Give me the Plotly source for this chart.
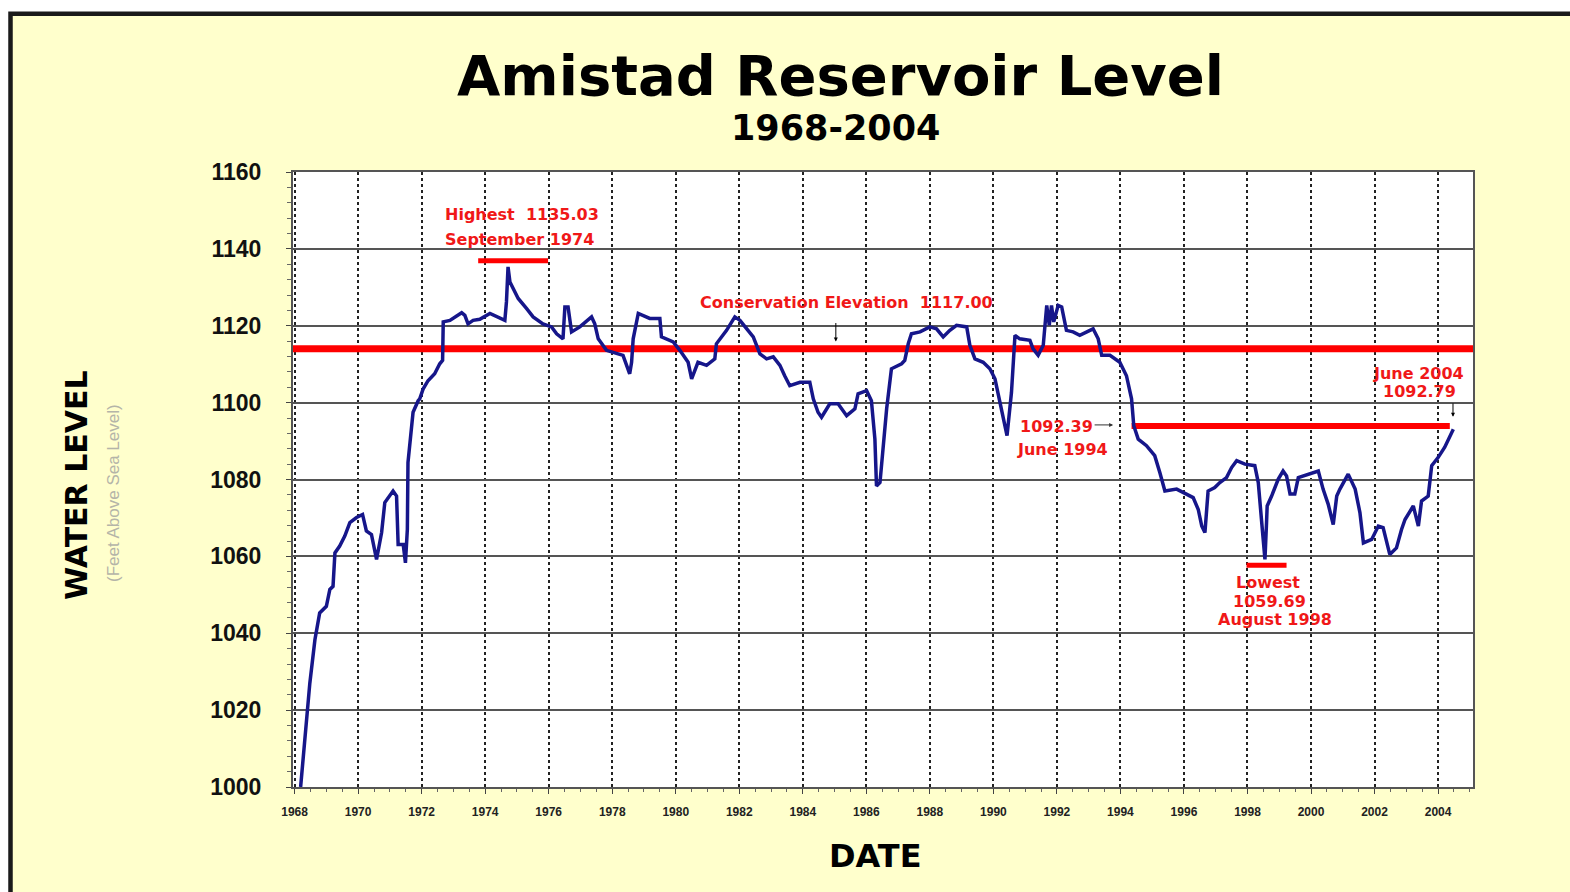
import plotly.graph_objects as go

# ---------------- data ----------------
years = [1968.19, 1968.32, 1968.48, 1968.64, 1968.79, 1969.00, 1969.11, 1969.21, 1969.27, 1969.42,
         1969.58, 1969.74, 1969.95, 1970.14, 1970.26, 1970.42, 1970.58, 1970.74, 1970.84, 1971.10,
         1971.21, 1971.26, 1971.42, 1971.49, 1971.55, 1971.57, 1971.65, 1971.73, 1971.89, 1971.94,
         1972.05, 1972.20, 1972.41, 1972.57, 1972.66, 1972.68, 1972.89, 1973.26, 1973.36, 1973.46,
         1973.62, 1973.83, 1974.15, 1974.36, 1974.62, 1974.67, 1974.72, 1974.78, 1975.04, 1975.30,
         1975.51, 1975.82, 1976.09, 1976.25, 1976.45, 1976.51, 1976.61, 1976.72, 1976.98, 1977.35,
         1977.45, 1977.56, 1977.71, 1977.82, 1978.34, 1978.50, 1978.55, 1978.61, 1978.66, 1978.82,
         1979.18, 1979.50, 1979.55, 1979.92, 1980.13, 1980.39, 1980.50, 1980.70, 1980.97, 1981.23,
         1981.28, 1981.60, 1981.86, 1982.02, 1982.28, 1982.44, 1982.65, 1982.86, 1983.07, 1983.28,
         1983.43, 1983.59, 1983.91, 1984.22, 1984.33, 1984.48, 1984.59, 1984.85, 1985.11, 1985.38,
         1985.64, 1985.74, 1986.01, 1986.16, 1986.27, 1986.32, 1986.43, 1986.53, 1986.64, 1986.79,
         1987.11, 1987.21, 1987.32, 1987.42, 1987.69, 1988.00, 1988.21, 1988.42, 1988.63, 1988.84,
         1989.16, 1989.26, 1989.42, 1989.68, 1989.89, 1990.05, 1990.21, 1990.31, 1990.43, 1990.57,
         1990.68, 1990.83, 1991.15, 1991.25, 1991.41, 1991.57, 1991.68, 1991.76, 1991.83, 1991.90,
         1992.04, 1992.15, 1992.30, 1992.51, 1992.72, 1993.04, 1993.14, 1993.30, 1993.41, 1993.67,
         1993.98, 1994.19, 1994.35, 1994.42, 1994.56, 1994.82, 1995.08, 1995.24, 1995.40, 1995.77,
         1996.08, 1996.29, 1996.45, 1996.56, 1996.66, 1996.76, 1996.97, 1997.13, 1997.34, 1997.50,
         1997.66, 1997.92, 1998.23, 1998.34, 1998.44, 1998.55, 1998.60, 1998.62, 1998.76, 1998.97,
         1999.12, 1999.23, 1999.34, 1999.49, 1999.60, 1999.91, 2000.23, 2000.38, 2000.54, 2000.70,
         2000.81, 2000.91, 2001.17, 2001.39, 2001.54, 2001.65, 2001.91, 2002.12, 2002.27, 2002.48,
         2002.69, 2002.85, 2002.96, 2003.22, 2003.38, 2003.48, 2003.69, 2003.80, 2004.00, 2004.21,
         2004.32, 2004.48]
levels = [1000.0, 1012.2, 1027.0, 1038.3, 1045.3, 1047.0, 1051.4, 1052.2, 1060.9, 1062.7,
          1065.3, 1068.8, 1070.1, 1070.9, 1066.6, 1065.7, 1059.2, 1066.2, 1074.0, 1077.0,
          1075.7, 1063.1, 1063.1, 1058.3, 1067.0, 1084.4, 1092.3, 1097.5, 1100.5, 1101.0,
          1103.6, 1105.7, 1107.5, 1110.1, 1111.0, 1121.0, 1121.4, 1123.4, 1122.7, 1120.5,
          1121.4, 1121.7, 1123.2, 1122.3, 1121.4, 1126.2, 1135.3, 1131.4, 1127.1, 1124.5,
          1122.3, 1120.5, 1119.7, 1117.9, 1116.6, 1124.9, 1124.9, 1118.4, 1119.7, 1122.3,
          1120.5, 1116.6, 1114.9, 1113.6, 1112.3, 1108.8, 1107.5, 1110.5, 1116.6, 1123.2,
          1121.9, 1121.9, 1117.1, 1115.8, 1113.6, 1110.5, 1106.2, 1110.5, 1109.7, 1111.4,
          1115.3, 1118.8, 1122.3, 1121.4, 1118.8, 1117.1, 1112.7, 1111.4, 1111.9, 1109.7,
          1107.0, 1104.4, 1105.3, 1105.3, 1101.0, 1097.5, 1096.2, 1099.7, 1099.7, 1096.6,
          1098.4, 1102.3, 1103.1, 1100.5, 1090.5, 1078.3, 1079.2, 1088.8, 1098.4, 1108.8,
          1110.1, 1111.0, 1115.3, 1117.9, 1118.4, 1119.7, 1119.2, 1117.1, 1118.8, 1120.1,
          1119.7, 1114.9, 1111.4, 1110.5, 1108.8, 1106.2, 1100.1, 1095.7, 1091.4, 1102.7,
          1117.5, 1116.6, 1116.2, 1114.0, 1112.3, 1114.9, 1125.3, 1120.1, 1125.3, 1121.0,
          1125.3, 1124.9, 1118.8, 1118.4, 1117.5, 1118.8, 1119.2, 1116.6, 1112.3, 1112.3,
          1110.5, 1107.0, 1101.0, 1094.0, 1090.5, 1088.8, 1086.2, 1081.8, 1077.0, 1077.5,
          1076.2, 1075.3, 1072.2, 1067.9, 1066.2, 1077.0, 1077.9, 1079.2, 1080.5, 1083.1,
          1084.9, 1084.0, 1083.6, 1079.2, 1069.6, 1059.2, 1068.8, 1073.1, 1075.7, 1080.1,
          1082.2, 1080.9, 1076.2, 1076.2, 1080.5, 1081.4, 1082.2, 1077.5, 1073.6, 1068.3,
          1075.7, 1077.5, 1081.4, 1077.5, 1071.4, 1063.5, 1064.4, 1067.9, 1067.5, 1060.5,
          1062.2, 1067.0, 1069.6, 1073.1, 1067.9, 1074.4, 1075.7, 1083.6, 1085.7, 1088.4,
          1090.5, 1093.1]

# reference markers (as drawn on the chart)
conservation_x = [1967.95, 2005.10]
conservation_y = [1114.0, 1114.0]
june94_x = [1994.35, 2004.37]
june94_y = [1093.9, 1093.9]
highest_x = [1973.78, 1975.98]
highest_y = [1136.9, 1136.9]
lowest_x = [1997.97, 1999.23]
lowest_y = [1057.7, 1057.7]

x_ticks = list(range(1968, 2005, 2))
y_ticks = list(range(1000, 1161, 20))

# ---------------- layout helpers ----------------
W, H = 1570, 892
ML, MR, MT, MB = 293, 97, 172, 105
PW, PH = W - ML - MR, H - MT - MB


def px(xp):
    return (xp - ML) / PW


def py(yp):
    return (H - MB - yp) / PH


YELLOW = "#FFFFCC"
RED = "#FF0000"
RED_TXT = "#F01818"
BLUE = "#16168A"

fig = go.Figure()

fig.add_trace(go.Scatter(x=conservation_x, y=conservation_y, mode="lines",
                         line=dict(color=RED, width=7), hoverinfo="skip"))
fig.add_trace(go.Scatter(x=june94_x, y=june94_y, mode="lines",
                         line=dict(color=RED, width=6), hoverinfo="skip"))
fig.add_trace(go.Scatter(x=highest_x, y=highest_y, mode="lines",
                         line=dict(color=RED, width=5), hoverinfo="skip"))
fig.add_trace(go.Scatter(x=lowest_x, y=lowest_y, mode="lines",
                         line=dict(color=RED, width=5), hoverinfo="skip"))
fig.add_trace(go.Scatter(x=years, y=levels, mode="lines",
                         line=dict(color=BLUE, width=3.5), name="Water level"))

shapes = [
    # yellow framed card
    dict(type="rect", xref="paper", yref="paper", layer="below",
         x0=px(10.5), x1=px(1640), y0=py(960), y1=py(13.8),
         fillcolor=YELLOW, line=dict(color="#1a1a1a", width=4.5)),
    # white plot area
    dict(type="rect", xref="paper", yref="paper", layer="below",
         x0=0, x1=1, y0=0, y1=1, fillcolor="white", line=dict(width=0)),
]

TFONT = "DejaVu Sans, Verdana, sans-serif"
AFONT = "Liberation Sans, Arial, sans-serif"
LFONT = dict(family=TFONT, size=16, color=RED_TXT)

annotations = [
    dict(text="<b>Amistad Reservoir Level</b>", xref="paper", yref="paper",
         x=px(840), y=py(75), showarrow=False, xanchor="center", yanchor="middle",
         font=dict(family=TFONT, size=56, color="black")),
    dict(text="<b>1968-2004</b>", xref="paper", yref="paper",
         x=px(835), y=py(128), showarrow=False, xanchor="center", yanchor="middle",
         font=dict(family=TFONT, size=35, color="black")),
    dict(text="<b>DATE</b>", xref="paper", yref="paper",
         x=px(875), y=py(856), showarrow=False, xanchor="center", yanchor="middle",
         font=dict(family=TFONT, size=32, color="black")),
    dict(text="<b>WATER LEVEL</b>", xref="paper", yref="paper", textangle=-90,
         x=px(76), y=py(485), showarrow=False, xanchor="center", yanchor="middle",
         font=dict(family=TFONT, size=30, color="black")),
    dict(text="(Feet Above Sea Level)", xref="paper", yref="paper", textangle=-90,
         x=px(113), y=py(493), showarrow=False, xanchor="center", yanchor="middle",
         font=dict(family=AFONT, size=17, color="#b4b4a8")),
    # red labels
    dict(text="<b>Highest  1135.03</b>", x=1972.66, y=1149.0, showarrow=False,
         xanchor="left", yanchor="middle", font=LFONT),
    dict(text="<b>September 1974</b>", x=1972.66, y=1142.5, showarrow=False,
         xanchor="left", yanchor="middle", font=LFONT),
    dict(text="<b>Conservation Elevation  1117.00</b>", x=1980.70, y=1126.0, showarrow=False,
         xanchor="left", yanchor="middle", font=LFONT),
    dict(text="<b>1092.39</b>", x=1990.77, y=1093.7, showarrow=False,
         xanchor="left", yanchor="middle", font=LFONT),
    dict(text="<b>June 1994</b>", x=1990.68, y=1087.9, showarrow=False,
         xanchor="left", yanchor="middle", font=LFONT),
    dict(text="<b>June 2004</b>", x=2003.37, y=1107.6, showarrow=False,
         xanchor="center", yanchor="middle", font=LFONT),
    dict(text="<b>1092.79</b>", x=2003.43, y=1102.9, showarrow=False,
         xanchor="center", yanchor="middle", font=LFONT),
    dict(text="<b>Lowest</b>", x=1998.65, y=1053.2, showarrow=False,
         xanchor="center", yanchor="middle", font=LFONT),
    dict(text="<b>1059.69</b>", x=1998.70, y=1048.2, showarrow=False,
         xanchor="center", yanchor="middle", font=LFONT),
    dict(text="<b>August 1998</b>", x=1998.87, y=1043.5, showarrow=False,
         xanchor="center", yanchor="middle", font=LFONT),
    # small black arrows
    dict(text="", x=1985.04, y=1115.9, showarrow=True, ax=0, ay=-20,
         arrowhead=2, arrowsize=0.8, arrowwidth=1, arrowcolor="black"),
    dict(text="", x=1993.77, y=1094.2, showarrow=True, ax=-20, ay=0,
         arrowhead=2, arrowsize=0.8, arrowwidth=1, arrowcolor="#333333"),
    dict(text="", x=2004.47, y=1096.3, showarrow=True, ax=0, ay=-15,
         arrowhead=2, arrowsize=0.8, arrowwidth=1, arrowcolor="black"),
]

fig.update_layout(
    width=W, height=H, autosize=False,
    margin=dict(l=ML, r=MR, t=MT, b=MB, pad=0),
    paper_bgcolor="white", plot_bgcolor="white",
    showlegend=False,
    shapes=shapes, annotations=annotations,
    xaxis=dict(range=[1967.95, 2005.10], tickmode="array", tickvals=x_ticks,
               ticktext=[f"<b>{v}</b>" for v in x_ticks],
               showgrid=True, gridcolor="#222222", gridwidth=1.6, griddash="dot",
               showline=True, linecolor="#555555", linewidth=2, mirror=True,
               ticks="outside", ticklen=5, tickcolor="#444444", tickwidth=1,
               minor=dict(dtick=0.5, tick0=1968, ticks="outside", ticklen=3,
                          tickcolor="#666666", showgrid=False),
               tickfont=dict(family=AFONT, size=12, color="#222222"),
               ticklabelstandoff=8, zeroline=False, fixedrange=True),
    yaxis=dict(range=[1000, 1160], tickmode="array", tickvals=y_ticks,
               ticktext=[f"<b>{v}</b>" for v in y_ticks],
               showgrid=True, gridcolor="#555555", gridwidth=1.6,
               showline=True, linecolor="#555555", linewidth=2, mirror=True,
               ticks="outside", ticklen=5, tickcolor="#444444", tickwidth=1,
               minor=dict(dtick=4, tick0=1000, ticks="outside", ticklen=4,
                          tickcolor="#666666", showgrid=False),
               tickfont=dict(family=AFONT, size=23, color="#111111"),
               ticklabelstandoff=20, zeroline=False, fixedrange=True),
)

fig.write_html("out.html", config={"displayModeBar": False},
               post_script="document.body.style.margin='0px';document.body.style.overflow='hidden';")
